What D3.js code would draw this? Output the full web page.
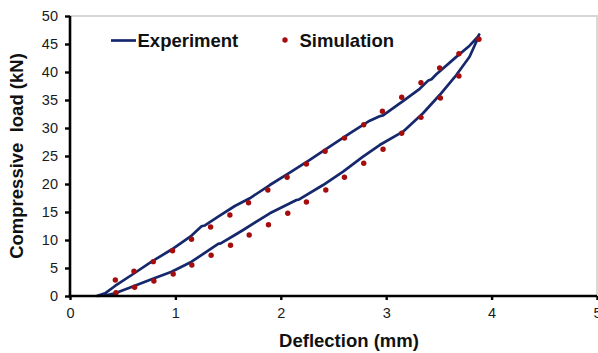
<!DOCTYPE html>
<html>
<head>
<meta charset="utf-8">
<script src="https://cdn.jsdelivr.net/npm/d3@7"></script>
<style>
  html, body { margin: 0; padding: 0; background: #fff; }
  svg { display: block; font-family: "Liberation Sans", Arial, sans-serif; }
</style>
</head>
<body>
<svg id="chart" width="598" height="353"></svg>
<script>
// Experiment: loading branch (lower) and unloading branch (upper), deflection in mm, load in kN
const expLowerX = [0.253, 0.332, 0.427, 0.553, 0.774, 0.964, 1.154, 1.406, 1.43, 1.564, 1.643, 1.896, 2.149, 2.17, 2.401, 2.591, 2.78, 2.938, 3.159, 3.349, 3.507, 3.665, 3.791, 3.855, 3.882];
const expLowerY = [0.0, 0.09, 0.48, 1.38, 2.98, 4.34, 6.13, 9.3, 9.4, 10.89, 11.79, 14.77, 17.14, 17.2, 19.82, 22.2, 24.88, 26.96, 29.34, 32.63, 35.89, 39.46, 42.73, 45.41, 46.7];
const expUpperX = [0.253, 0.332, 0.427, 0.585, 0.774, 0.964, 1.154, 1.248, 1.28, 1.406, 1.564, 1.706, 1.896, 2.085, 2.275, 2.464, 2.654, 2.844, 2.938, 2.97, 3.159, 3.318, 3.40, 3.43, 3.476, 3.665, 3.791, 3.87, 3.882];
const expUpperY = [0.0, 0.48, 1.79, 3.75, 6.13, 8.3, 10.8, 12.45, 12.6, 14.16, 16.07, 17.45, 19.82, 22.02, 24.29, 26.66, 29.05, 31.3, 32.1, 32.25, 34.8, 37.0, 38.5, 38.7, 39.6, 42.7, 44.7, 46.3, 46.7];

// Simulation: points on both branches
const simUpperX = [0.43, 0.607, 0.79, 0.973, 1.153, 1.334, 1.517, 1.694, 1.877, 2.06, 2.243, 2.42, 2.604, 2.787, 2.964, 3.147, 3.33, 3.507, 3.69, 3.88];
const simUpperY = [2.86, 4.41, 6.13, 8.09, 10.13, 12.32, 14.46, 16.66, 18.93, 21.2, 23.57, 25.84, 28.2, 30.57, 33.0, 35.48, 38.09, 40.71, 43.27, 45.84];
const simLowerX = [0.436, 0.613, 0.796, 0.979, 1.156, 1.339, 1.523, 1.70, 1.883, 2.066, 2.243, 2.427, 2.604, 2.787, 2.97, 3.147, 3.33, 3.514, 3.69];
const simLowerY = [0.59, 1.55, 2.68, 3.93, 5.54, 7.27, 9.05, 10.89, 12.73, 14.77, 16.79, 18.93, 21.2, 23.7, 26.2, 29.05, 31.9, 35.36, 39.29];

const xTicks = [0, 1, 2, 3, 4, 5];
const yTicks = [0, 5, 10, 15, 20, 25, 30, 35, 40, 45, 50];
const xTitle = "Deflection (mm)";
const yTitle = "Compressive  load (kN)";
const seriesNames = ["Experiment", "Simulation"];

const lineColor = "#16286c";
const dotColor = "#a50d0d";

const svg = d3.select("#chart");
const plot = { left: 70, right: 597, top: 16, bottom: 296 };

const x = d3.scaleLinear().domain([0, 5]).range([plot.left, plot.right]);
const y = d3.scaleLinear().domain([0, 50]).range([plot.bottom, plot.top]);

// light frame on top and right
svg.append("path")
  .attr("d", `M${plot.left},${plot.top}H${plot.right}V${plot.bottom}`)
  .attr("fill", "none")
  .attr("stroke", "#d6d6d6")
  .attr("stroke-width", 1.8);

// experiment loop: loading branch up to the peak, unloading branch back down
const loop = expLowerX.map((v, i) => [v, expLowerY[i]])
  .concat(expUpperX.map((v, i) => [v, expUpperY[i]]).reverse());

const line = d3.line()
  .x(d => x(d[0]))
  .y(d => y(d[1]))
  .curve(d3.curveLinear);

svg.append("path")
  .datum(loop)
  .attr("d", line)
  .attr("fill", "none")
  .attr("stroke", lineColor)
  .attr("stroke-width", 2.7)
  .attr("stroke-linejoin", "round");

const sim = simUpperX.map((v, i) => [v, simUpperY[i]])
  .concat(simLowerX.map((v, i) => [v, simLowerY[i]]));

svg.append("g").selectAll("circle")
  .data(sim)
  .join("circle")
  .attr("cx", d => x(d[0]))
  .attr("cy", d => y(d[1]))
  .attr("r", 2.7)
  .attr("fill", dotColor);

// axes
const xAxis = d3.axisBottom(x).tickValues(xTicks).tickSize(4).tickPadding(8).tickFormat(d3.format("d"));
const yAxis = d3.axisLeft(y).tickValues(yTicks).tickSize(5).tickPadding(7).tickFormat(d3.format("d"));

const gx = svg.append("g").attr("transform", `translate(0,${plot.bottom})`).call(xAxis);
const gy = svg.append("g").attr("transform", `translate(${plot.left},0)`).call(yAxis);

[gx, gy].forEach(g => {
  g.select(".domain").attr("stroke", "#000").attr("stroke-width", 2.6);
  g.selectAll(".tick line").attr("stroke", "#000").attr("stroke-width", 2.4);
  g.selectAll(".tick text")
    .attr("fill", "#1a1a1a")
    .style("font-size", "14.5px")
    .style("font-family", "'Liberation Sans', Arial, sans-serif");
});
gx.select(".domain").attr("d", `M${plot.left - 1.3},0H${plot.right}`);
gy.select(".domain").attr("d", `M0,${plot.top}V${plot.bottom + 1.3}`);

// axis titles
svg.append("text")
  .attr("x", 349)
  .attr("y", 347)
  .attr("text-anchor", "middle")
  .style("font-size", "18.5px")
  .style("font-weight", "bold")
  .attr("fill", "#111")
  .text(xTitle);

svg.append("text")
  .attr("transform", `translate(23,156) rotate(-90)`)
  .attr("text-anchor", "middle")
  .style("font-size", "18.5px")
  .style("font-weight", "bold")
  .style("white-space", "pre")
  .attr("fill", "#111")
  .text(yTitle);

// legend
const legend = svg.append("g");
legend.append("line")
  .attr("x1", 111).attr("x2", 136)
  .attr("y1", 40.5).attr("y2", 40.5)
  .attr("stroke", lineColor)
  .attr("stroke-width", 2.7);
legend.append("text")
  .attr("x", 137.5).attr("y", 47)
  .style("font-size", "18.5px")
  .style("font-weight", "bold")
  .attr("fill", "#111")
  .text(seriesNames[0]);
legend.append("circle")
  .attr("cx", 285).attr("cy", 40)
  .attr("r", 2.7)
  .attr("fill", dotColor);
legend.append("text")
  .attr("x", 299.5).attr("y", 47)
  .style("font-size", "18.5px")
  .style("font-weight", "bold")
  .attr("fill", "#111")
  .text(seriesNames[1]);
</script>
</body>
</html>
